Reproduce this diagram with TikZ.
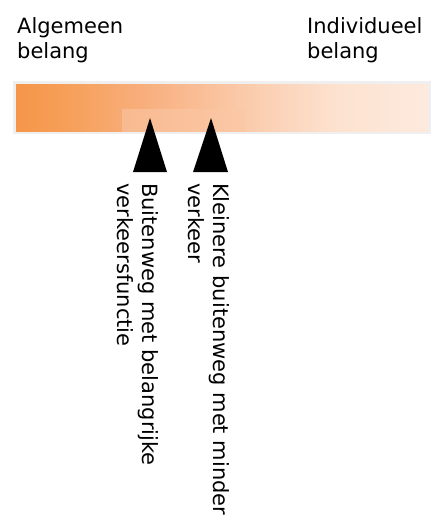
\documentclass[tikz,border=0pt]{standalone}
\usepackage{fontspec}
\setmainfont{DejaVu Sans}
\definecolor{c0}{HTML}{F5964A}
\definecolor{c1}{HTML}{F69F58}
\definecolor{c2}{HTML}{F8B080}
\definecolor{c3}{HTML}{FAC9A8}
\definecolor{c4}{HTML}{FCD9C2}
\definecolor{c5}{HTML}{FDE2D0}
\definecolor{c6}{HTML}{FDEADD}
\definecolor{frame}{HTML}{EFEFEF}
\definecolor{patchL}{HTML}{F8BA90}
\definecolor{patchR}{HTML}{FBC8A6}
\pgfdeclarehorizontalshading{barshade}{100bp}{color(0bp)=(c0); color(25bp)=(c0); color(31bp)=(c1); color(41.2bp)=(c2); color(52bp)=(c3); color(59.5bp)=(c4); color(64bp)=(c5); color(75bp)=(c6); color(100bp)=(c6)}
\tikzset{
  lbl/.style={inner sep=0pt, align=left, font=\fontsize{21}{25}\selectfont, anchor=base west},
  vlbl/.style={lbl, rotate=-90},
  marker/.style={fill=black}
}
\begin{document}
\begin{tikzpicture}[x=1pt,y=-1pt]
\useasboundingbox (0,0) rectangle (435,520);
\fill[white] (0,0) rectangle (435,520);
% bar with faint frame
\fill[frame] (13,81) rectangle (430.5,134);
\shade[shading=barshade] (16,84.5) rectangle (428,131.5);
\shade[left color=patchL, right color=patchR] (122,109.5) rectangle (245,131.5);
% markers
\fill[marker] (150,118) -- (133,172) -- (167,172) -- cycle;
\fill[marker] (211,118) -- (193,172) -- (228,172) -- cycle;
% labels (anchor = baseline of the last line)
\node[lbl] (alg) at (17,58) {Algemeen\\belang};
\node[lbl] (ind) at (307,58) {Individueel\\belang};
\node[vlbl] (bw) at (117,183) {Buitenweg met belangrijke\\verkeersfunctie};
\node[vlbl] (kb) at (188,183) {Kleinere buitenweg met minder\\verkeer};
\end{tikzpicture}
\end{document}
